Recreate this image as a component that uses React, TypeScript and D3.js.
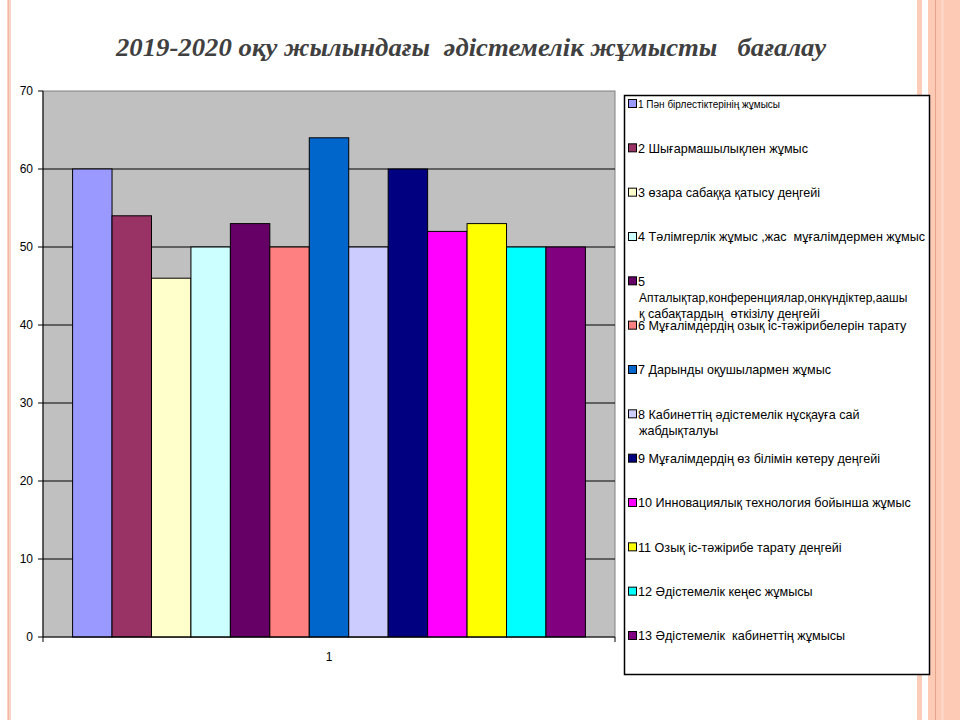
import * as d3 from "d3";

const title = "2019-2020 оқу жылындағы  әдістемелік жұмысты   бағалау";

const seriesLabels: string[][] = [
  ["1 Пән бірлестіктерінің жұмысы"],
  ["2 Шығармашылықлен жұмыс"],
  ["3 өзара сабаққа қатысу деңгейі"],
  ["4 Тәлімгерлік жұмыс ,жас  мұғалімдермен жұмыс"],
  ["5", "Апталықтар,конференциялар,онкүндіктер,аашы", "қ сабақтардың  өткізілу деңгейі"],
  ["6 Мұғалімдердің озық іс-тәжірибелерін тарату"],
  ["7 Дарынды оқушылармен жұмыс"],
  ["8 Кабинеттің әдістемелік нұсқауға сай", "жабдықталуы"],
  ["9 Мұғалімдердің өз білімін көтеру деңгейі"],
  ["10 Инновациялық технология бойынша жұмыс"],
  ["11 Озық іс-тәжірибе тарату деңгейі"],
  ["12 Әдістемелік кеңес жұмысы"],
  ["13 Әдістемелік  кабинеттің жұмысы"],
];

const seriesValues = [60, 54, 46, 50, 53, 50, 64, 50, 60, 52, 53, 50, 50];

const seriesColors = [
  "#9999FF", "#993366", "#FFFFCC", "#CCFFFF", "#660066", "#FF8080", "#0066CC",
  "#CCCCFF", "#000080", "#FF00FF", "#FFFF00", "#00FFFF", "#800080",
];

const categories = ["1"];
const yTicks = [0, 10, 20, 30, 40, 50, 60, 70];

export default function App() {
  const plot = { left: 43, right: 615, top: 91, bottom: 637 };

  const y = d3.scaleLinear().domain([0, 70]).range([plot.bottom, plot.top]);
  const x0 = d3.scaleBand<string>().domain(categories).range([plot.left, plot.right]);
  const x1 = d3
    .scaleBand<number>()
    .domain(d3.range(seriesValues.length))
    .range([0, x0.bandwidth()])
    .paddingInner(0)
    .paddingOuter(0.75);

  // legend rows spread evenly down the box
  const legendY = d3
    .scaleLinear()
    .domain([0, seriesLabels.length - 1])
    .range([104, 636]);

  const font = "Arial, 'Liberation Sans', sans-serif";

  return (
    <svg
      width={960}
      height={720}
      style={{ position: "absolute", left: 0, top: 0, background: "#fff" }}
    >
      {/* slide decoration */}
      <rect x={7} y={0} width={4} height={720} fill="#F9D3C6" />
      <line x1={8.5} x2={8.5} y1={0} y2={720} stroke="#F2B9A6" strokeWidth={1} />
      <rect x={917} y={0} width={5} height={720} fill="#FBCDB9" />
      <rect x={928} y={0} width={32} height={720} fill="#FCCAB5" />
      <line x1={935.5} x2={935.5} y1={0} y2={720} stroke="#E6A48A" strokeWidth={1} />
      <line x1={942.5} x2={942.5} y1={0} y2={720} stroke="#FDDACB" strokeWidth={2} />

      <text
        x={471}
        y={56}
        textAnchor="middle"
        fontFamily="'Liberation Serif', 'Times New Roman', serif"
        fontStyle="italic"
        fontWeight="bold"
        fontSize={25}
        fill="#404040"
        textLength={710}
        lengthAdjust="spacingAndGlyphs"
        style={{ whiteSpace: "pre" }}
      >
        {title}
      </text>

      {/* plot area */}
      <rect
        x={plot.left}
        y={plot.top}
        width={plot.right - plot.left}
        height={plot.bottom - plot.top}
        fill="#C0C0C0"
        stroke="#808080"
        strokeWidth={1}
      />
      {yTicks
        .filter((t) => t > 0 && t < 70)
        .map((t) => (
          <line
            key={t}
            x1={plot.left}
            x2={plot.right}
            y1={y(t)}
            y2={y(t)}
            stroke="#000"
            strokeWidth={1}
          />
        ))}

      {categories.map((c) =>
        seriesValues.map((v, i) => (
          <rect
            key={c + i}
            x={(x0(c) ?? 0) + (x1(i) ?? 0)}
            y={y(v)}
            width={x1.bandwidth()}
            height={y(0) - y(v)}
            fill={seriesColors[i]}
            stroke="#000"
            strokeWidth={1}
          />
        ))
      )}

      {/* axes */}
      <line x1={plot.left} x2={plot.left} y1={plot.top} y2={plot.bottom} stroke="#000" />
      <line x1={plot.left} x2={plot.right} y1={plot.bottom} y2={plot.bottom} stroke="#000" />
      {yTicks.map((t) => (
        <g key={t}>
          <line x1={plot.left - 5} x2={plot.left} y1={y(t)} y2={y(t)} stroke="#000" />
          <text
            x={33}
            y={y(t)}
            dy="0.35em"
            textAnchor="end"
            fontFamily={font}
            fontSize={12}
            fill="#000"
          >
            {t}
          </text>
        </g>
      ))}
      {[plot.left, plot.right].map((px) => (
        <line key={px} x1={px} x2={px} y1={plot.bottom} y2={plot.bottom + 5} stroke="#000" />
      ))}
      {categories.map((c) => (
        <text
          key={c}
          x={(x0(c) ?? 0) + x0.bandwidth() / 2}
          y={657}
          dy="0.35em"
          textAnchor="middle"
          fontFamily={font}
          fontSize={12}
          fill="#000"
        >
          {c}
        </text>
      ))}

      {/* legend */}
      <rect x={624.5} y={95.5} width={305} height={579} fill="#fff" stroke="#000" strokeWidth={1.5} />
      {seriesLabels.map((lines, i) => {
        const cy = legendY(i);
        return (
          <g key={i}>
            <rect
              x={628.5}
              y={cy - 4.5}
              width={8}
              height={8}
              fill={seriesColors[i]}
              stroke="#000"
              strokeWidth={1}
            />
            {lines.map((ln, j) => (
              <text
                key={j}
                x={j === 0 ? 638 : 639}
                y={cy + j * 16}
                dy="0.35em"
                fontFamily={font}
                fontSize={i === 0 ? 10 : ln.length > 40 && lines.length > 1 ? 12 : 12.6}
                fill="#000"
                style={{ whiteSpace: "pre" }}
              >
                {ln}
              </text>
            ))}
          </g>
        );
      })}
    </svg>
  );
}
